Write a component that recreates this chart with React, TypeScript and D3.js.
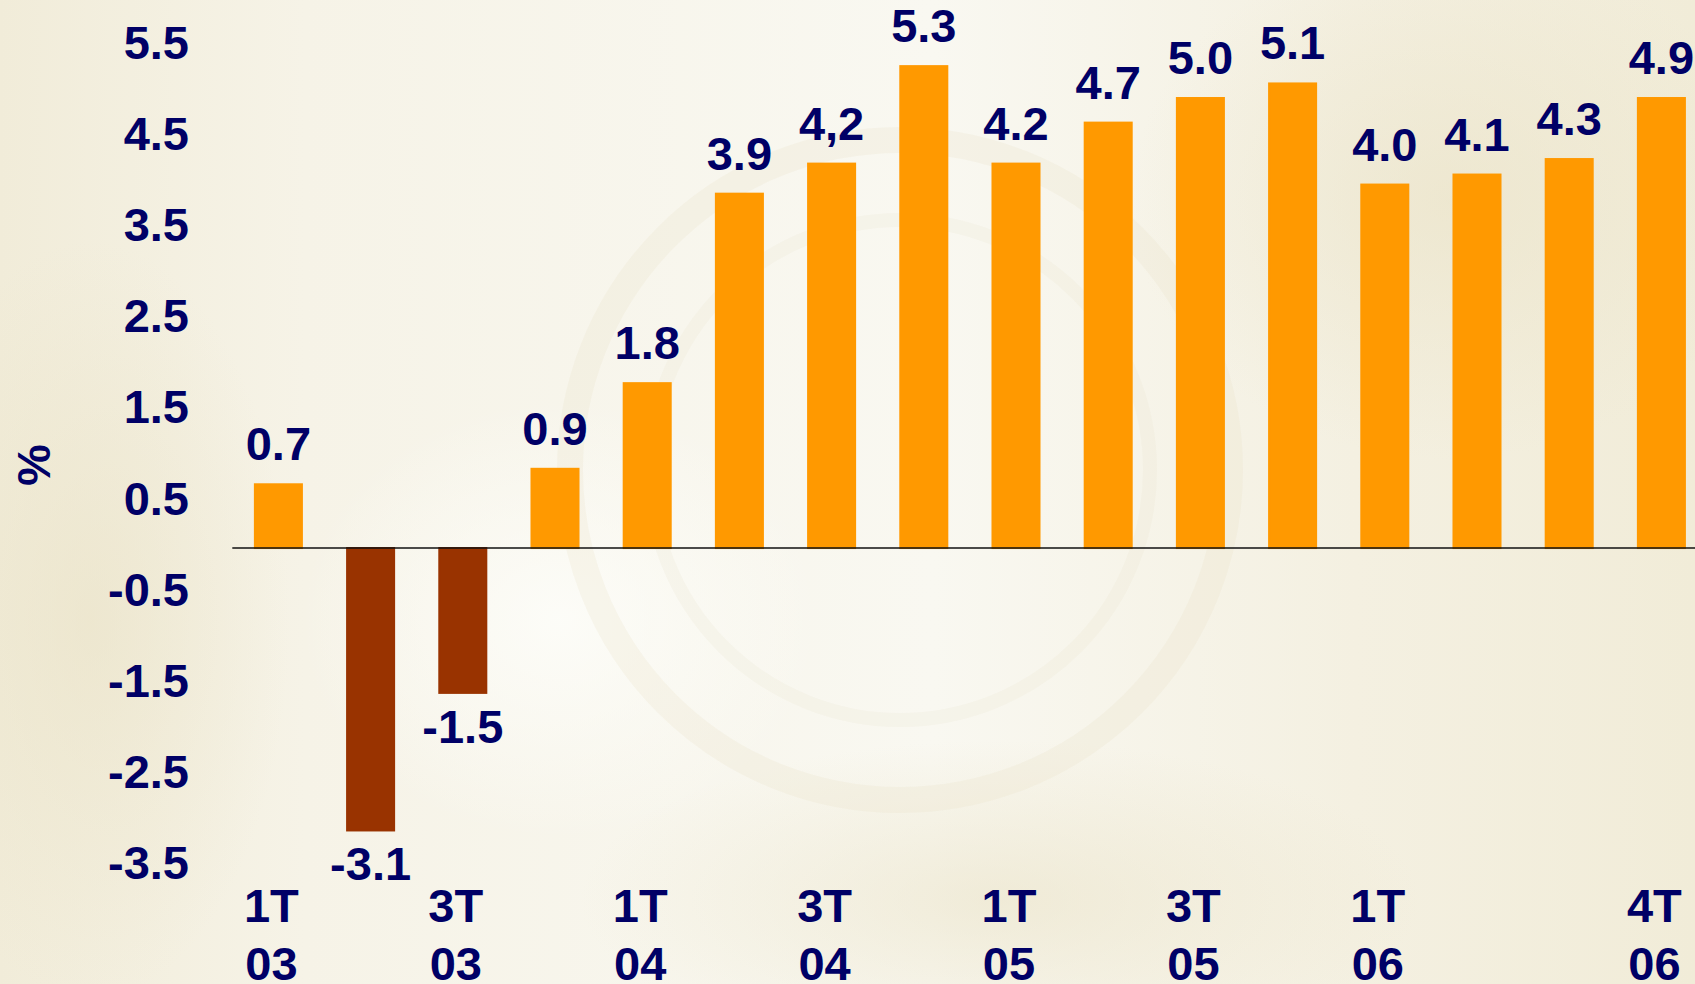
import React from "react";
import * as d3 from "d3";

const categories = [
  "1T03", "2T03", "3T03", "4T03",
  "1T04", "2T04", "3T04", "4T04",
  "1T05", "2T05", "3T05", "4T05",
  "1T06", "2T06", "3T06", "4T06",
];
const values = [0.7, -3.1, -1.59, 0.87, 1.81, 3.89, 4.22, 5.29, 4.22, 4.67, 4.94, 5.1, 3.99, 4.1, 4.27, 4.94];
const valueLabels = ["0.7", "-3.1", "-1.5", "0.9", "1.8", "3.9", "4,2", "5.3", "4.2", "4.7", "5.0", "5.1", "4.0", "4.1", "4.3", "4.9"];
const xTickLabels: (string[] | null)[] = [
  ["1T", "03"], null, ["3T", "03"], null,
  ["1T", "04"], null, ["3T", "04"], null,
  ["1T", "05"], null, ["3T", "05"], null,
  ["1T", "06"], null, null, ["4T", "06"],
];
const yTicks = [5.5, 4.5, 3.5, 2.5, 1.5, 0.5, -0.5, -1.5, -2.5, -3.5];
const yTitle = "%";

const W = 1695;
const H = 984;
const NAVY = "#000066";
const FONT = "'Liberation Sans', Arial, Helvetica, sans-serif";
const FS = 47;

const locale = d3.formatLocale({
  decimal: ".",
  thousands: ",",
  grouping: [3],
  currency: ["", ""],
  minus: "-",
});
const fmt = locale.format(".1f");

export default function App() {
  const x = d3
    .scaleBand<string>()
    .domain(categories)
    .range([232.3, 1707.5])
    .paddingInner(0.49)
    .paddingOuter(0.245);
  const y = d3.scaleLinear().domain([-3.5, 5.5]).range([866.9, 47]);
  const y0 = y(0);

  return (
    <svg
      width={W}
      height={H}
      viewBox={`0 0 ${W} ${H}`}
      style={{ position: "absolute", left: 0, top: 0, display: "block" }}
      fontFamily={FONT}
    >
      <defs>
        <linearGradient id="bgLin" x1="0" y1="0" x2="1" y2="0">
          <stop offset="0" stopColor="#F1ECD9" />
          <stop offset="0.18" stopColor="#F6F3E7" />
          <stop offset="0.55" stopColor="#F9F8F1" />
          <stop offset="0.8" stopColor="#F4F0E1" />
          <stop offset="1" stopColor="#F1ECD8" />
        </linearGradient>
        <radialGradient id="blobDark" cx="0.5" cy="0.5" r="0.5">
          <stop offset="0" stopColor="#E9E1C4" stopOpacity="0.55" />
          <stop offset="1" stopColor="#E9E1C4" stopOpacity="0" />
        </radialGradient>
        <radialGradient id="blobLight" cx="0.5" cy="0.5" r="0.5">
          <stop offset="0" stopColor="#FDFDF9" stopOpacity="0.9" />
          <stop offset="1" stopColor="#FDFDF9" stopOpacity="0" />
        </radialGradient>
      </defs>
      <rect x={0} y={0} width={W} height={H} fill="url(#bgLin)" />
      <ellipse cx={1450} cy={200} rx={320} ry={260} fill="url(#blobDark)" />
      <ellipse cx={90} cy={620} rx={200} ry={380} fill="url(#blobDark)" />
      <ellipse cx={1000} cy={900} rx={420} ry={160} fill="url(#blobDark)" />
      <ellipse cx={560} cy={620} rx={260} ry={220} fill="url(#blobLight)" />
      <circle cx={900} cy={470} r={330} fill="none" stroke="#E6DEC2" strokeOpacity={0.22} strokeWidth={26} />
      <circle cx={900} cy={470} r={250} fill="none" stroke="#E6DEC2" strokeOpacity={0.14} strokeWidth={14} />

      {/* bars */}
      {values.map((v, i) => {
        const bx = x(categories[i])!;
        const top = Math.min(y(v), y0);
        const h = Math.abs(y(v) - y0);
        const color = v >= 0 ? "#FF9900" : "#993300";
        return (
          <rect
            key={categories[i]}
            x={bx}
            y={top}
            width={x.bandwidth()}
            height={h}
            fill={color}
            stroke={color}
            strokeWidth={2}
          />
        );
      })}

      {/* zero line */}
      <line x1={232.3} x2={W} y1={y0} y2={y0} stroke="#111" strokeWidth={1.6} />

      {/* y tick labels */}
      {yTicks.map((t) => (
        <text
          key={t}
          x={189}
          y={y(t) + 12}
          textAnchor="end"
          fontSize={FS}
          fontWeight="bold"
          fill={NAVY}
        >
          {fmt(t)}
        </text>
      ))}

      {/* y title */}
      <text
        transform={`translate(33,465) rotate(-90)`}
        textAnchor="middle"
        dominantBaseline="central"
        fontSize={FS}
        fontWeight="bold"
        fill={NAVY}
      >
        {yTitle}
      </text>

      {/* value labels */}
      {values.map((v, i) => {
        const cx = x(categories[i])! + x.bandwidth() / 2;
        const ly = v >= 0 ? y(v) - 24 : y(v) + 50;
        return (
          <text
            key={"l" + i}
            x={cx}
            y={ly}
            textAnchor="middle"
            fontSize={FS}
            fontWeight="bold"
            fill={NAVY}
          >
            {valueLabels[i]}
          </text>
        );
      })}

      {/* x tick labels */}
      {xTickLabels.map((lab, i) => {
        if (!lab) return null;
        const cx = x(categories[i])! + x.bandwidth() / 2 - 7;
        return (
          <text
            key={"x" + i}
            x={cx}
            textAnchor="middle"
            fontSize={FS}
            fontWeight="bold"
            fill={NAVY}
          >
            <tspan x={cx} y={922}>{lab[0]}</tspan>
            <tspan x={cx} y={979.5}>{lab[1]}</tspan>
          </text>
        );
      })}
    </svg>
  );
}
